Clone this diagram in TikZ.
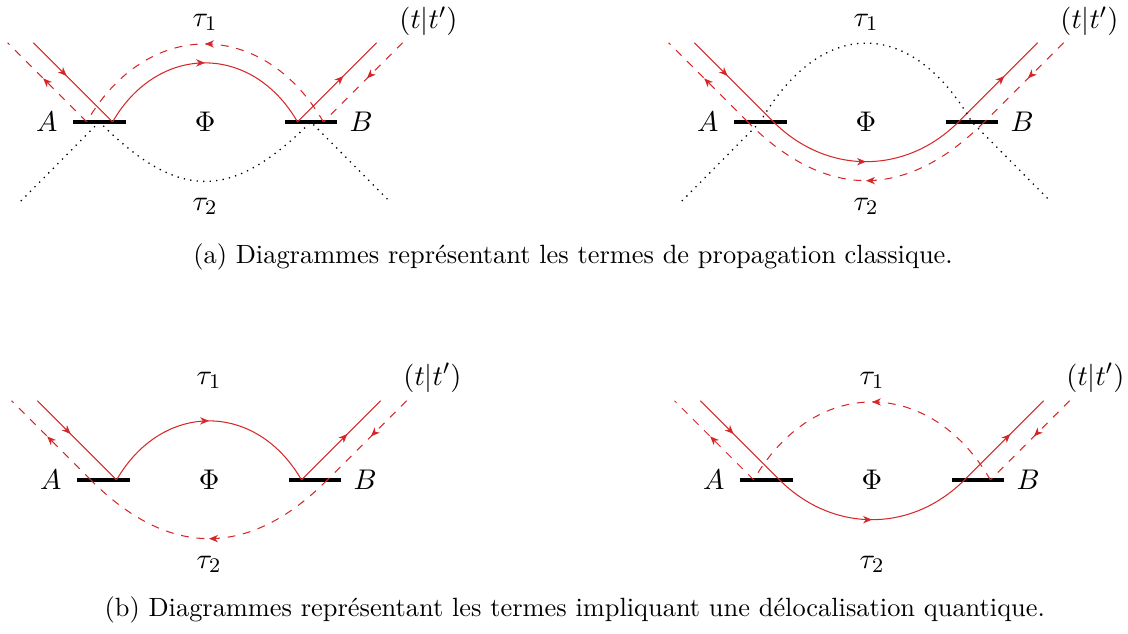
\documentclass[tikz,border=0pt]{standalone}
\usepackage{amsmath}
\usetikzlibrary{decorations.markings, arrows.meta, positioning, calc}
\definecolor{prop}{RGB}{214,39,40}
\tikzset{
  diagram/.style={font=\fontsize{11}{13}\selectfont},
  captext/.style={font=\fontsize{10.15}{12}\selectfont},
  bar/.style={fill=black, minimum width=0.71cm, minimum height=1.5pt, inner sep=0pt},
  fwd/.style={prop, line width=0.4pt},
  bwd/.style={prop, line width=0.4pt, dashed},
  ghost/.style={dotted, line width=0.5pt},
  midarrow/.style={postaction={decorate}, decoration={markings,
    mark=at position #1 with {\arrow{Stealth[length=3.4pt,width=2.8pt,inset=1pt]}}}},
  midarrow/.default=0.5,
}

\begin{document}
\begin{tikzpicture}
  \useasboundingbox (0,0) rectangle (15.25,8.57);

  % (a) gauche
  \begin{scope}[diagram, shift={(2.772,6.922)}, name prefix=al-]
    \node[bar] (barA) at (-1.43,0) {};
    \node[bar] (barB) at (1.43,0) {};
    \node[left=0.08cm of barA] (A) {$A$};
    \node[right=0.04cm of barB] (B) {$B$};
    \node (phi) at (0,0) {$\Phi$};
    \node (t1) at (0,1.35) {$\tau_1$};
    \node (t2) at (0,-1.14) {$\tau_2$};
    \node (tt) at (3.02,1.36) {$(t|t')$};
    \coordinate (sA) at (-2.32,1.07); \coordinate (s1) at (-1.25,0);
    \coordinate (sB) at (2.32,1.07);  \coordinate (s2) at (1.25,0);
    \coordinate (dA) at (-2.67,1.07); \coordinate (d1) at (-1.6,0);
    \coordinate (dB) at (2.67,1.07);  \coordinate (d2) at (1.6,0);
    \coordinate (gA) at (-2.49,-1.07); \coordinate (gB) at (2.49,-1.07);
    \draw[fwd, midarrow=0.42] (sA) -- (s1);
    \draw[fwd, midarrow] (s1) to[out=60, in=120, looseness=1.26] (s2);
    \draw[fwd, midarrow=0.58] (s2) -- (sB);
    \draw[bwd, midarrow=0.45] (dB) -- (d2);
    \draw[bwd, midarrow] (d2) to[out=120, in=60, looseness=1.3] (d1);
    \draw[bwd, midarrow=0.55] (d1) -- (dA);
    \draw[ghost] (gA) -- (barA.center) to[out=-45, in=-135, looseness=1.36] (barB.center) -- (gB);
  \end{scope}

  % (a) droite
  \begin{scope}[diagram, shift={(11.708,6.922)}, name prefix=ar-]
    \node[bar] (barA) at (-1.43,0) {};
    \node[bar] (barB) at (1.43,0) {};
    \node[left=0.08cm of barA] (A) {$A$};
    \node[right=0.04cm of barB] (B) {$B$};
    \node (phi) at (0,0) {$\Phi$};
    \node (t1) at (0,1.35) {$\tau_1$};
    \node (t2) at (0,-1.14) {$\tau_2$};
    \node (tt) at (3.02,1.36) {$(t|t')$};
    \coordinate (sA) at (-2.32,1.07); \coordinate (s1) at (-1.25,0);
    \coordinate (sB) at (2.32,1.07);  \coordinate (s2) at (1.25,0);
    \coordinate (dA) at (-2.67,1.07); \coordinate (d1) at (-1.6,0);
    \coordinate (dB) at (2.67,1.07);  \coordinate (d2) at (1.6,0);
    \coordinate (gA) at (-2.49,-1.07); \coordinate (gB) at (2.49,-1.07);
    \draw[fwd, midarrow=0.42] (sA) -- (s1);
    \draw[fwd, midarrow] (s1) to[out=-45, in=-135, looseness=1.04] (s2);
    \draw[fwd, midarrow=0.58] (s2) -- (sB);
    \draw[bwd, midarrow=0.45] (dB) -- (d2);
    \draw[bwd, midarrow] (d2) to[out=-135, in=-45, looseness=1.2] (d1);
    \draw[bwd, midarrow=0.55] (d1) -- (dA);
    \draw[ghost] (gA) -- (barA.center) to[out=60, in=120, looseness=1.47] (barB.center) -- (gB);
  \end{scope}

  \node[captext] (capa) at (7.747,5.097) {(a) Diagrammes représentant les termes de propagation classique.};

  % (b) gauche
  \begin{scope}[diagram, shift={(2.826,2.082)}, name prefix=bl-]
    \node[bar] (barA) at (-1.43,0) {};
    \node[bar] (barB) at (1.43,0) {};
    \node[left=0.08cm of barA] (A) {$A$};
    \node[right=0.04cm of barB] (B) {$B$};
    \node (phi) at (0,0) {$\Phi$};
    \node (t1) at (0,1.35) {$\tau_1$};
    \node (t2) at (0,-1.14) {$\tau_2$};
    \node (tt) at (3.02,1.38) {$(t|t')$};
    \coordinate (sA) at (-2.32,1.07); \coordinate (s1) at (-1.25,0);
    \coordinate (sB) at (2.32,1.07);  \coordinate (s2) at (1.25,0);
    \coordinate (dA) at (-2.67,1.07); \coordinate (d1) at (-1.6,0);
    \coordinate (dB) at (2.67,1.07);  \coordinate (d2) at (1.6,0);
    \draw[fwd, midarrow=0.42] (sA) -- (s1);
    \draw[fwd, midarrow] (s1) to[out=60, in=120, looseness=1.26] (s2);
    \draw[fwd, midarrow=0.58] (s2) -- (sB);
    \draw[bwd, midarrow=0.45] (dB) -- (d2);
    \draw[bwd, midarrow] (d2) to[out=-135, in=-45, looseness=1.2] (d1);
    \draw[bwd, midarrow=0.55] (d1) -- (dA);
  \end{scope}

  % (b) droite
  \begin{scope}[diagram, shift={(11.789,2.082)}, name prefix=br-]
    \node[bar] (barA) at (-1.43,0) {};
    \node[bar] (barB) at (1.43,0) {};
    \node[left=0.08cm of barA] (A) {$A$};
    \node[right=0.04cm of barB] (B) {$B$};
    \node (phi) at (0,0) {$\Phi$};
    \node (t1) at (0,1.35) {$\tau_1$};
    \node (t2) at (0,-1.14) {$\tau_2$};
    \node (tt) at (3.02,1.38) {$(t|t')$};
    \coordinate (sA) at (-2.32,1.07); \coordinate (s1) at (-1.25,0);
    \coordinate (sB) at (2.32,1.07);  \coordinate (s2) at (1.25,0);
    \coordinate (dA) at (-2.67,1.07); \coordinate (d1) at (-1.6,0);
    \coordinate (dB) at (2.67,1.07);  \coordinate (d2) at (1.6,0);
    \draw[fwd, midarrow=0.42] (sA) -- (s1);
    \draw[fwd, midarrow] (s1) to[out=-45, in=-135, looseness=1.04] (s2);
    \draw[fwd, midarrow=0.58] (s2) -- (sB);
    \draw[bwd, midarrow=0.45] (dB) -- (d2);
    \draw[bwd, midarrow] (d2) to[out=120, in=60, looseness=1.3] (d1);
    \draw[bwd, midarrow=0.55] (d1) -- (dA);
  \end{scope}

  \node[captext] (capb) at (7.77,0.324) {(b) Diagrammes représentant les termes impliquant une délocalisation quantique.};
\end{tikzpicture}
\end{document}
